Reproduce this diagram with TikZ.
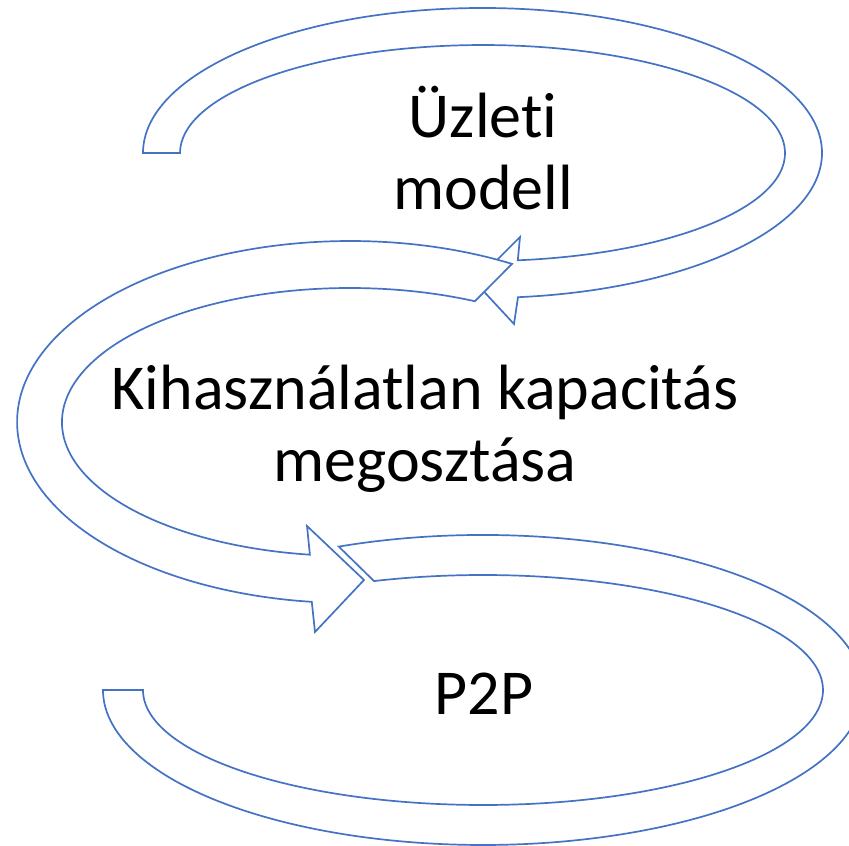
\documentclass[tikz,border=0pt]{standalone}
\usepackage{fontspec}
\setmainfont{Carlito}[Ligatures=NoCommon]
\definecolor{ringblue}{RGB}{68,114,196}

\begin{document}
\begin{tikzpicture}[x=1pt, y=1pt, line width=1.7pt, draw=ringblue, font=\fontsize{64}{72}\selectfont]
			\useasboundingbox (0,0) rectangle (849,846);
			\draw[fill=white] (143,693) arc[start angle=180, end angle=-84, x radius=339.5pt, y radius=145pt] -- (514,522) -- (475,564) -- (520,609) -- (517.8,585.7) arc[start angle=-83.3, end angle=180, x radius=302.5pt, y radius=108pt] -- cycle;
			\draw[fill=white] (512,582.1) arc[start angle=60.9, end angle=263.4, x radius=333pt, y radius=181pt] -- (315,214) -- (364,266) -- (307,320) -- (309.9,291.3) arc[start angle=262, end angle=64.3, x radius=288pt, y radius=134pt] -- cycle;
			\draw[fill=white] (338.8,299.4) arc[start angle=112.3, end angle=-180, x radius=380pt, y radius=155pt] -- (143,156) arc[start angle=-180, end angle=108.7, x radius=340pt, y radius=115pt] -- cycle;
			\node[align=center] (uzleti) at (483,698) {Üzleti\\modell};
			\node[align=center] (kapacitas) at (425,417) {Kihasználatlan kapacitás\\megosztása};
			\node (ptp) at (484,152) {P2P};
\end{tikzpicture}
\end{document}
